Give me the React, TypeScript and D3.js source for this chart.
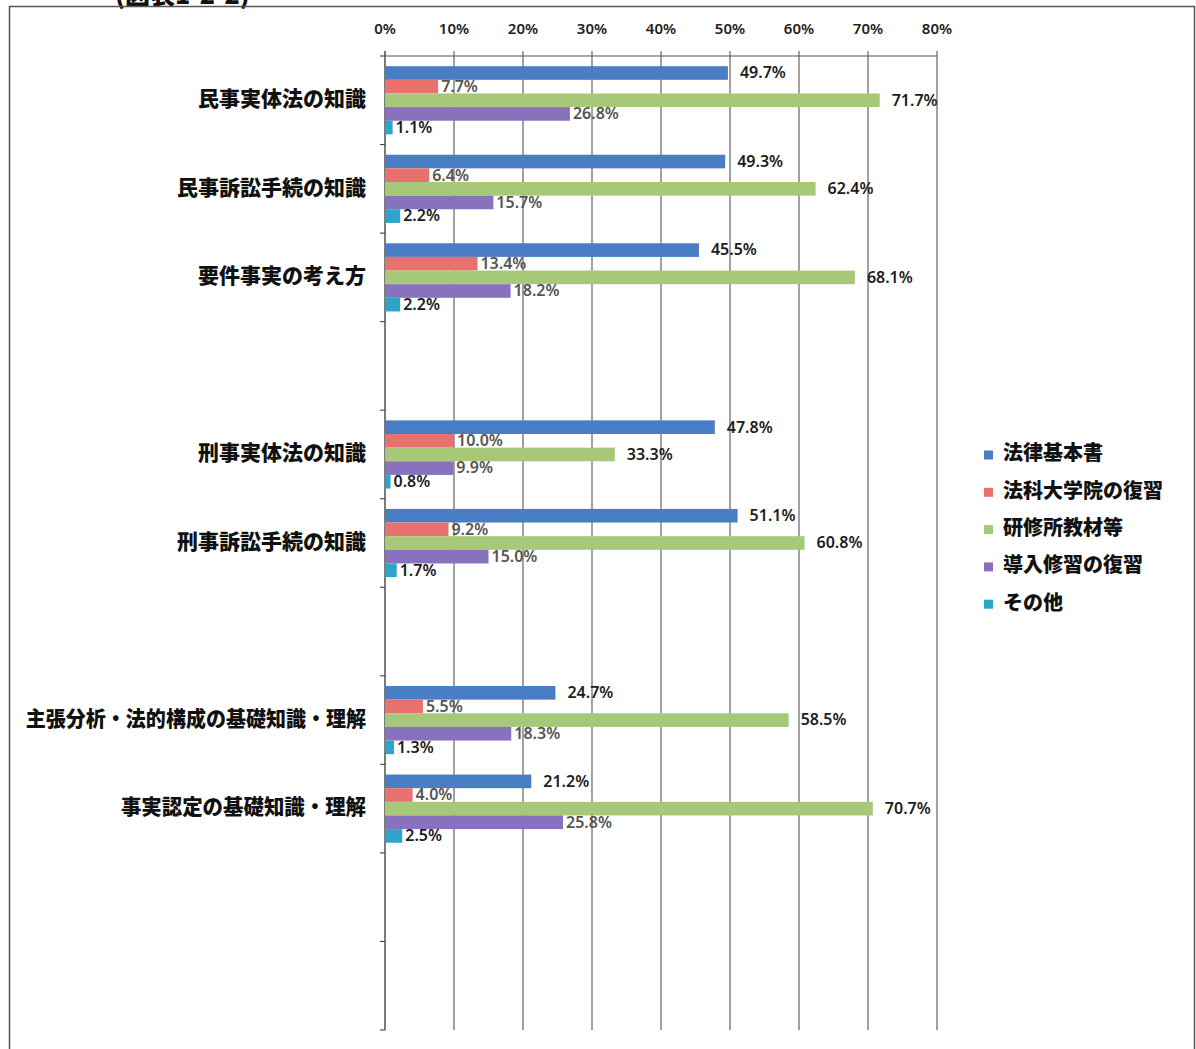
import React from "react";
import * as d3 from "d3";

const categories = [
  "民事実体法の知識",
  "民事訴訟手続の知識",
  "要件事実の考え方",
  "",
  "刑事実体法の知識",
  "刑事訴訟手続の知識",
  "",
  "主張分析・法的構成の基礎知識・理解",
  "事実認定の基礎知識・理解",
  "",
  "",
];

const seriesNames = ["法律基本書", "法科大学院の復習", "研修所教材等", "導入修習の復習", "その他"];

const s1 = [49.7, 49.3, 45.5, null, 47.8, 51.1, null, 24.7, 21.2, null, null];
const s2 = [7.7, 6.4, 13.4, null, 10.0, 9.2, null, 5.5, 4.0, null, null];
const s3 = [71.7, 62.4, 68.1, null, 33.3, 60.8, null, 58.5, 70.7, null, null];
const s4 = [26.8, 15.7, 18.2, null, 9.9, 15.0, null, 18.3, 25.8, null, null];
const s5 = [1.1, 2.2, 2.2, null, 0.8, 1.7, null, 1.3, 2.5, null, null];

const seriesValues = [s1, s2, s3, s4, s5];
const colors = ["#4a7ec4", "#e8716e", "#a7c878", "#8872be", "#2ea4c8"];
const labelColors = ["#1c1c1c", "#555", "#1c1c1c", "#555", "#1c1c1c"];
const labelOffsets = [12, 3, 12, 3, 3];

const xTicks = [0, 10, 20, 30, 40, 50, 60, 70, 80];

const W = 1196;
const H = 1049;

// width of a category label when the middle dot is set narrow, as in the scan
function labelWidth(s: string, fs: number) {
  let w = 0;
  for (const ch of s) w += ch === "・" ? fs * 0.45 : fs * 1.02;
  return w;
}

export default function App() {
  const x = d3.scaleLinear().domain([0, 80]).range([385, 937]);
  const y = d3
    .scaleBand<number>()
    .domain(d3.range(categories.length))
    .range([56, 1030])
    .paddingInner(0.23)
    .paddingOuter(0.115);
  const inner = d3
    .scaleBand<number>()
    .domain(d3.range(seriesNames.length))
    .range([0, y.bandwidth()]);

  const step = y.step();
  const boundaries = d3.range(categories.length + 1).map((i) => 56 + i * step);

  const cjk = "'Noto Sans CJK JP', 'Noto Sans', sans-serif";
  const latin = "'Noto Sans', 'DejaVu Sans', sans-serif";
  const catFs = 21;

  return (
    <svg
      width={W}
      height={H}
      style={{ position: "absolute", left: 0, top: 0, background: "#fff" }}
    >
      <rect x={0} y={0} width={W} height={H} fill="#fff" />
      {/* title (clipped at top, as in the scan) */}
      <text x={115} y={4} fontFamily={cjk} fontWeight={900} fontSize={25} fill="#111">
        (図表1-2-2)
      </text>
      {/* frame */}
      <rect x={9.5} y={6.5} width={1185} height={1080} fill="none" stroke="#555" strokeWidth={1.5} />

      {/* gridlines */}
      {xTicks.map((t) => (
        <g key={"g" + t}>
          <line x1={x(t)} x2={x(t)} y1={51} y2={1030} stroke={t === 0 ? "#444" : "#555"} strokeWidth={t === 0 ? 1.4 : 1.1} />
          <text
            x={x(t)}
            y={30}
            textAnchor="middle"
            dominantBaseline="middle"
            fontFamily={latin}
            fontWeight={600}
            fontSize={15}
            fill="#222"
          >
            {t + "%"}
          </text>
        </g>
      ))}
      {/* top axis line */}
      <line x1={x(0)} x2={x(80)} y1={56} y2={56} stroke="#555" strokeWidth={1.1} />
      {/* left ticks */}
      {boundaries.map((b, i) => (
        <line key={"t" + i} x1={380} x2={385} y1={b} y2={b} stroke="#444" strokeWidth={1.1} />
      ))}

      {/* bars */}
      {categories.map((c, ci) =>
        seriesValues.map((vals, si) => {
          const v = vals[ci];
          if (v == null) return null;
          const by = (y(ci) as number) + (inner(si) as number);
          const bh = inner.bandwidth();
          return (
            <g key={`b${ci}-${si}`}>
              <rect x={x(0)} y={by} width={x(v) - x(0)} height={bh} fill={colors[si]} />
              <text
                x={x(v) + labelOffsets[si]}
                y={by + bh / 2 + 1}
                dominantBaseline="middle"
                fontFamily={latin}
                fontWeight={600}
                fontSize={16}
                fill={labelColors[si]}
              >
                {v.toFixed(1) + "%"}
              </text>
            </g>
          );
        })
      )}

      {/* category labels */}
      {categories.map((c, ci) =>
        c ? (
          <text
            key={"c" + ci}
            x={366}
            y={(y(ci) as number) + y.bandwidth() / 2}
            textAnchor="end"
            dominantBaseline="middle"
            fontFamily={cjk}
            fontWeight={900}
            fontSize={catFs}
            fill="#111"
            {...(c.includes("・")
              ? { textLength: labelWidth(c, catFs), lengthAdjust: "spacingAndGlyphs" }
              : {})}
          >
            {c}
          </text>
        ) : null
      )}

      {/* legend */}
      {seriesNames.map((n, i) => {
        const ly = 455 + i * 37.3;
        return (
          <g key={"l" + i}>
            <rect x={984} y={ly - 4.5} width={9} height={9} fill={colors[i]} />
            <text
              x={1003}
              y={ly}
              dominantBaseline="middle"
              fontFamily={cjk}
              fontWeight={900}
              fontSize={20}
              fill="#111"
            >
              {n}
            </text>
          </g>
        );
      })}
    </svg>
  );
}
